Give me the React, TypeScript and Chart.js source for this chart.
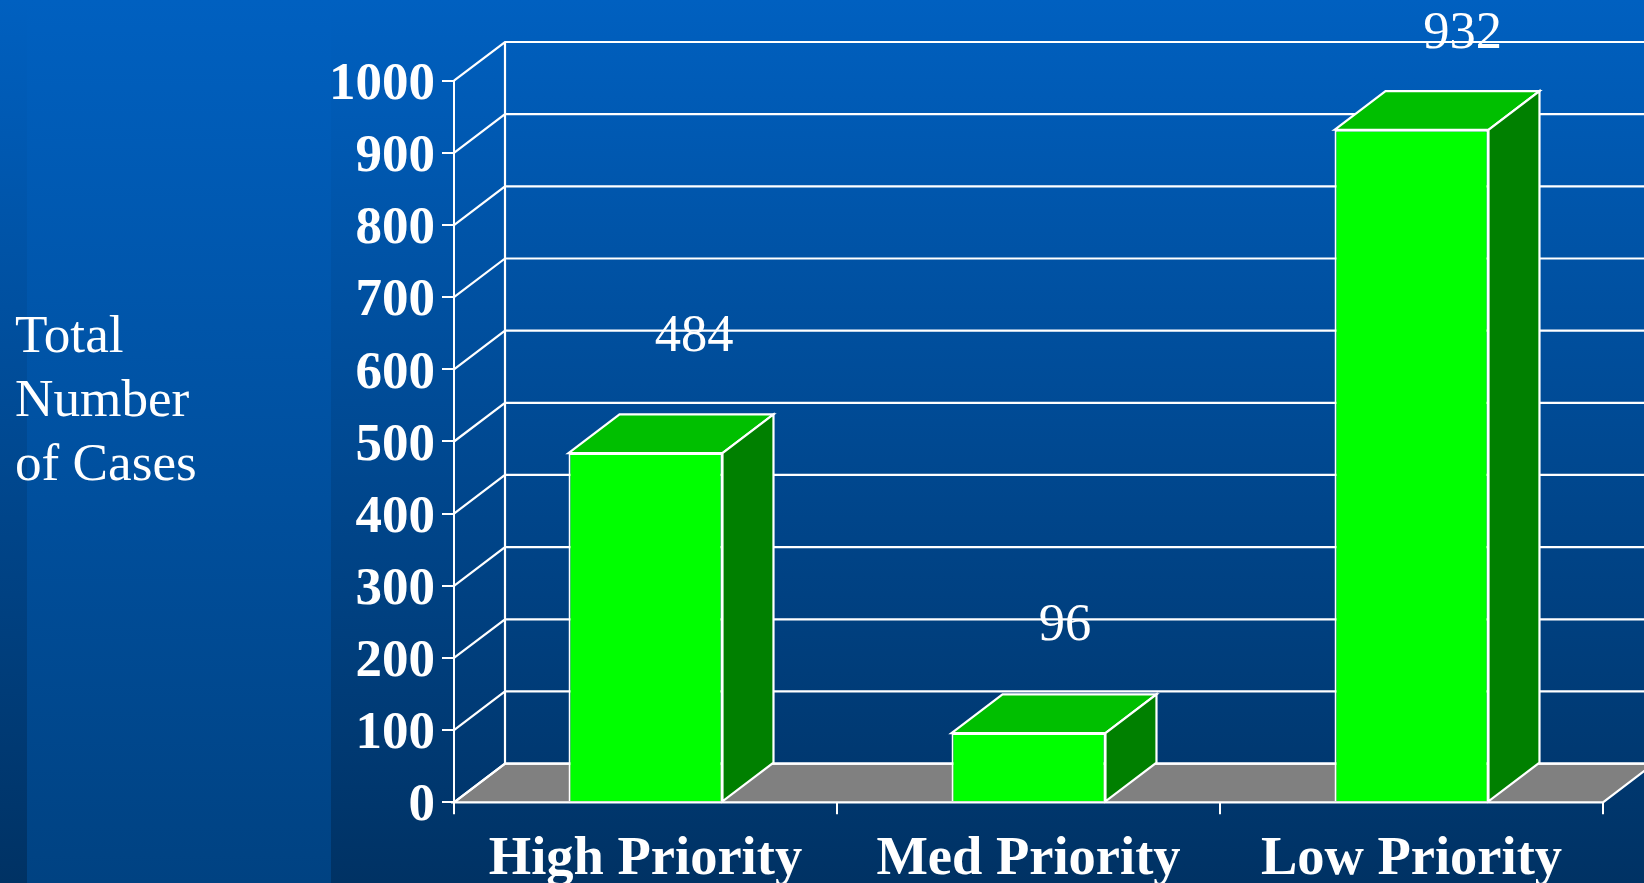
import React, { useEffect, useRef } from "react";
import { Chart, registerables } from "chart.js";

Chart.register(...registerables);

const categories = ["High Priority", "Med Priority", "Low Priority"];
const caseCounts = [484, 96, 932];
const axisTitleLines = ["Total", "Number", "of Cases"];
const yMax = 1000;
const yStep = 100;

const SERIF = '"Liberation Serif", "Times New Roman", serif';
const DEPTH_X = 51;
const DEPTH_Y = -38.7;
const WHITE = "#ffffff";

const backgroundPlugin = {
  id: "slideBackground",
  beforeDraw(chart: any) {
    const { ctx, width, height } = chart;
    const main = ctx.createLinearGradient(0, 0, 0, height);
    main.addColorStop(0, "#0060c0");
    main.addColorStop(1, "#003264");
    ctx.save();
    ctx.fillStyle = main;
    ctx.fillRect(0, 0, width, height);
    const band = ctx.createLinearGradient(0, 0, 0, height);
    band.addColorStop(0, "#0060c0");
    band.addColorStop(1, "#004282");
    ctx.fillStyle = band;
    ctx.fillRect(27, 0, 304, height);
    ctx.restore();
  },
};

const wallPlugin = {
  id: "wall3d",
  beforeDatasetsDraw(chart: any) {
    const { ctx, scales, width } = chart;
    const x = scales.x;
    const y = scales.y;
    const base = y.getPixelForValue(0);
    ctx.save();
    ctx.beginPath();
    ctx.moveTo(x.left, base);
    ctx.lineTo(x.left + DEPTH_X, base + DEPTH_Y);
    ctx.lineTo(x.right + DEPTH_X, base + DEPTH_Y);
    ctx.lineTo(x.right, base);
    ctx.closePath();
    ctx.fillStyle = "#808080";
    ctx.fill();
    ctx.strokeStyle = WHITE;
    ctx.lineWidth = 2.2;
    ctx.stroke();
    ctx.beginPath();
    y.ticks.forEach((t: any) => {
      const py = y.getPixelForValue(t.value);
      ctx.moveTo(x.left, py);
      ctx.lineTo(x.left + DEPTH_X, py + DEPTH_Y);
      ctx.lineTo(width + 20, py + DEPTH_Y);
    });
    ctx.moveTo(x.left + DEPTH_X, y.getPixelForValue(yMax) + DEPTH_Y);
    ctx.lineTo(x.left + DEPTH_X, base + DEPTH_Y);
    ctx.stroke();
    ctx.restore();
  },
};

const barDepthPlugin = {
  id: "barDepth",
  afterDatasetsDraw(chart: any) {
    const { ctx } = chart;
    const meta = chart.getDatasetMeta(0);
    ctx.save();
    ctx.strokeStyle = WHITE;
    ctx.lineWidth = 2.2;
    ctx.lineJoin = "miter";
    meta.data.forEach((bar: any) => {
      const p = bar.getProps(["x", "y", "base", "width"], true);
      const l = p.x - p.width / 2;
      const r = p.x + p.width / 2;
      ctx.beginPath();
      ctx.moveTo(l, p.y);
      ctx.lineTo(l + DEPTH_X, p.y + DEPTH_Y);
      ctx.lineTo(r + DEPTH_X, p.y + DEPTH_Y);
      ctx.lineTo(r, p.y);
      ctx.closePath();
      ctx.fillStyle = "#00bf00";
      ctx.fill();
      ctx.stroke();
      ctx.beginPath();
      ctx.moveTo(r, p.y);
      ctx.lineTo(r + DEPTH_X, p.y + DEPTH_Y);
      ctx.lineTo(r + DEPTH_X, p.base + DEPTH_Y);
      ctx.lineTo(r, p.base);
      ctx.closePath();
      ctx.fillStyle = "#008000";
      ctx.fill();
      ctx.stroke();
    });
    ctx.restore();
  },
};

const labelNudges = [
  { dx: 48.5, dy: -102 },
  { dx: 36.5, dy: -93 },
  { dx: 51, dy: -82 },
];

const textPlugin = {
  id: "slideText",
  afterDraw(chart: any) {
    const { ctx } = chart;
    ctx.save();
    ctx.fillStyle = WHITE;
    ctx.textAlign = "center";
    ctx.textBaseline = "alphabetic";
    ctx.font = `52.5px ${SERIF}`;
    chart.getDatasetMeta(0).data.forEach((bar: any, i: number) => {
      ctx.fillText(
        String(caseCounts[i]),
        bar.x + labelNudges[i].dx,
        bar.y + labelNudges[i].dy
      );
    });
    ctx.font = `53.2px ${SERIF}`;
    ctx.textAlign = "left";
    axisTitleLines.forEach((line, i) => {
      ctx.fillText(line, 15, 352 + i * 64.2);
    });
    ctx.restore();
  },
};

export default function App() {
  const ref = useRef<HTMLCanvasElement | null>(null);
  useEffect(() => {
    const chart = new Chart(ref.current as HTMLCanvasElement, {
      type: "bar",
      data: {
        labels: categories,
        datasets: [
          {
            label: "Total Number of Cases",
            data: caseCounts,
            backgroundColor: "#00ff00",
            borderColor: WHITE,
            borderWidth: 2,
            barPercentage: 0.402,
            categoryPercentage: 1,
          },
        ],
      },
      options: {
        animation: false,
        responsive: false,
        devicePixelRatio: 1,
        layout: { padding: { top: 80.7, right: 41, left: 0, bottom: 0 } },
        plugins: { legend: { display: false }, tooltip: { enabled: false }, title: { display: false } },
        scales: {
          x: {
            type: "category",
            offset: true,
            afterFit(s: any) {
              s.height = 883 - 802.3;
            },
            border: { color: WHITE, width: 2 },
            grid: { offset: true, drawOnChartArea: false, drawTicks: true, tickLength: 12, color: WHITE, lineWidth: 2 },
            ticks: {
              color: WHITE,
              padding: 13,
              maxRotation: 0,
              font: { family: SERIF, size: 54.5, weight: "bold" },
            },
          },
          y: {
            min: 0,
            max: yMax,
            afterFit(s: any) {
              s.width = 454;
            },
            border: { color: WHITE, width: 2 },
            grid: { drawOnChartArea: false, drawTicks: true, tickLength: 12, color: WHITE, lineWidth: 2 },
            ticks: {
              stepSize: yStep,
              color: WHITE,
              padding: 7,
              labelOffset: 4.5,
              callback: (v: any) => String(v),
              font: { family: SERIF, size: 53, weight: "bold" },
            },
          },
        },
      },
      plugins: [backgroundPlugin, wallPlugin, barDepthPlugin, textPlugin],
    } as any);
    return () => chart.destroy();
  }, []);
  return (
    <div style={{ position: "fixed", left: 0, top: 0, width: 1644, height: 883, overflow: "hidden" }}>
      <canvas ref={ref} width={1644} height={883} style={{ display: "block", width: 1644, height: 883 }} />
    </div>
  );
}
